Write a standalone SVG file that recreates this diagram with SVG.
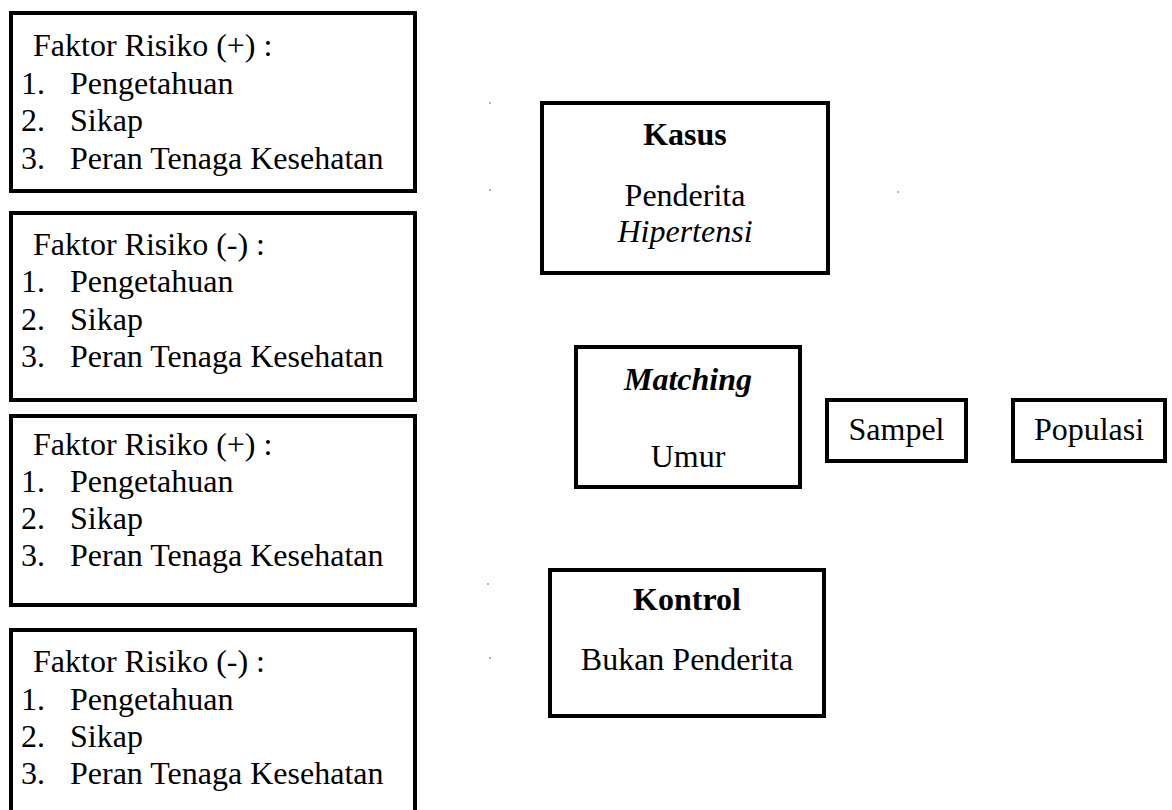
<svg xmlns="http://www.w3.org/2000/svg" width="1172" height="810" viewBox="0 0 1172 810">
<style>
.box{fill:#fff;stroke:#000;stroke-width:4}
text{font-family:"Liberation Serif","Times New Roman",serif;font-size:32px;fill:#000}
.c{text-anchor:middle}
.b{font-weight:bold}
.i{font-style:italic}
.dot{fill:#999}
</style>
<rect width="1172" height="810" fill="#fff"/>
<g id="faktor1">
<rect class="box" x="11" y="13" width="404" height="178"/>
<text x="33" y="56">Faktor Risiko (+) :</text>
<text x="21" y="94">1.</text><text x="70" y="94">Pengetahuan</text>
<text x="21" y="131">2.</text><text x="70" y="131">Sikap</text>
<text x="21" y="169">3.</text><text x="70" y="169">Peran Tenaga Kesehatan</text>
</g>
<g id="faktor2">
<rect class="box" x="11" y="213" width="404" height="187"/>
<text x="33" y="255">Faktor Risiko (-) :</text>
<text x="21" y="292">1.</text><text x="70" y="292">Pengetahuan</text>
<text x="21" y="330">2.</text><text x="70" y="330">Sikap</text>
<text x="21" y="367">3.</text><text x="70" y="367">Peran Tenaga Kesehatan</text>
</g>
<g id="faktor3">
<rect class="box" x="11" y="416" width="404" height="189"/>
<text x="33" y="455">Faktor Risiko (+) :</text>
<text x="21" y="492">1.</text><text x="70" y="492">Pengetahuan</text>
<text x="21" y="529">2.</text><text x="70" y="529">Sikap</text>
<text x="21" y="566">3.</text><text x="70" y="566">Peran Tenaga Kesehatan</text>
</g>
<g id="faktor4">
<rect class="box" x="11" y="630" width="404" height="200"/>
<text x="33" y="672">Faktor Risiko (-) :</text>
<text x="21" y="710">1.</text><text x="70" y="710">Pengetahuan</text>
<text x="21" y="747">2.</text><text x="70" y="747">Sikap</text>
<text x="21" y="784">3.</text><text x="70" y="784">Peran Tenaga Kesehatan</text>
</g>
<g id="kasus">
<rect class="box" x="542" y="103" width="286" height="170"/>
<text class="c b" x="685" y="145">Kasus</text>
<text class="c" x="685" y="206">Penderita</text>
<text class="c i" x="685" y="242">Hipertensi</text>
</g>
<g id="matching">
<rect class="box" x="576" y="347" width="224" height="140"/>
<text class="c b i" x="688" y="390">Matching</text>
<text class="c" x="688" y="467">Umur</text>
</g>
<g id="sampel">
<rect class="box" x="827" y="400" width="139" height="61"/>
<text class="c" x="896.5" y="440">Sampel</text>
</g>
<g id="populasi">
<rect class="box" x="1013" y="400" width="152" height="61"/>
<text class="c" x="1089" y="440">Populasi</text>
</g>
<g id="kontrol">
<rect class="box" x="550" y="570" width="274" height="146"/>
<text class="c b" x="687" y="610">Kontrol</text>
<text class="c" x="687" y="670">Bukan Penderita</text>
</g>
<g id="connectors">
<circle class="dot" cx="490" cy="103" r="1"/>
<circle class="dot" cx="490" cy="190" r="1"/>
<circle class="dot" cx="898" cy="192" r="1"/>
<circle class="dot" cx="488" cy="584" r="1"/>
<circle class="dot" cx="490" cy="658" r="1"/>
</g>
</svg>
